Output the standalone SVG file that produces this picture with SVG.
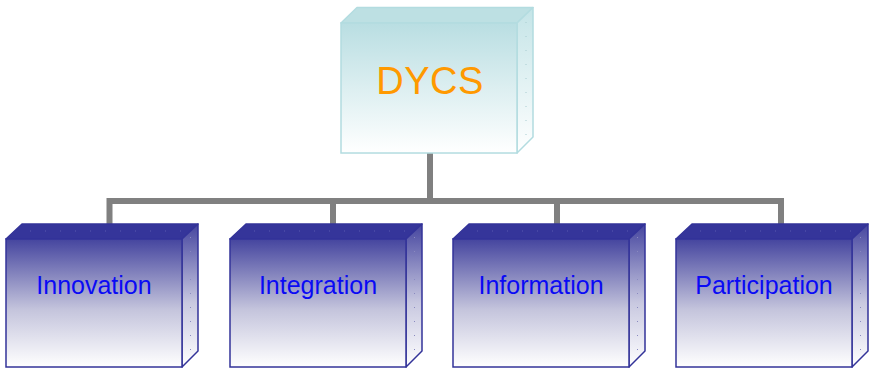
<svg xmlns="http://www.w3.org/2000/svg" width="871" height="368" viewBox="0 0 871 368">
  <defs>
    <linearGradient id="rootFront" x1="0" y1="0" x2="0" y2="1">
      <stop offset="0" stop-color="#B9DEE2"/>
      <stop offset="1" stop-color="#FFFFFF"/>
    </linearGradient>
    <linearGradient id="rootSide" x1="0" y1="0" x2="0" y2="1">
      <stop offset="0" stop-color="#C4E4E7"/>
      <stop offset="1" stop-color="#FFFFFF"/>
    </linearGradient>
    <linearGradient id="leafFront" x1="0" y1="0" x2="0" y2="1">
      <stop offset="0" stop-color="#45459F"/>
      <stop offset="0.55" stop-color="#C4C4DC"/>
      <stop offset="1" stop-color="#FFFFFF"/>
    </linearGradient>
    <linearGradient id="leafSide" x1="0" y1="0" x2="0" y2="1">
      <stop offset="0" stop-color="#45459F"/>
      <stop offset="0.55" stop-color="#C8C8E0"/>
      <stop offset="1" stop-color="#FFFFFF"/>
    </linearGradient>
    <!-- one 3D block: front face, top face, side face -->
    <g id="leafBlock">
      <path d="M0 0 L16 -15 L192 -15 L176 0 Z" fill="#35359A" stroke="#333399" stroke-width="1.5" stroke-linejoin="round"/>
      <path d="M176 0 L192 -15 L192 112 L176 128 Z" fill="url(#leafSide)" stroke="#333399" stroke-width="1.5" stroke-linejoin="round"/>
      <rect x="0" y="0" width="176" height="128" fill="url(#leafFront)" stroke="#333399" stroke-width="1.5"/>
      <line x1="184.5" y1="-2" x2="184.5" y2="112" stroke="#8A8AC0" stroke-width="1" stroke-dasharray="1 13"/>
      <line x1="24" y1="-8" x2="184" y2="-8" stroke="#5A5AB0" stroke-width="1" stroke-dasharray="1 14"/>
    </g>
  </defs>
  <style>
    .conn { fill: none; stroke: #808080; stroke-width: 6; }
    .leafText { font-family: "Liberation Sans", Arial, sans-serif; font-size: 25px; fill: #0A0AF5; text-anchor: middle; }
    .rootText { font-family: "Liberation Sans", Arial, sans-serif; font-size: 38px; fill: #FF9900; text-anchor: middle; letter-spacing: 0.5px; }
  </style>

  <g id="connectors">
    <line class="conn" x1="430" y1="153" x2="430" y2="201"/>
    <polyline class="conn" points="109.5,224 109.5,201 781,201 781,224"/>
    <line class="conn" x1="333" y1="201" x2="333" y2="224"/>
    <line class="conn" x1="557" y1="201" x2="557" y2="224"/>
  </g>

  <g id="node-dycs">
    <path d="M341 23 L357 7.5 L533 7.5 L517 23 Z" fill="#BDE0E3" stroke="#B3DCE0" stroke-width="1.5" stroke-linejoin="round"/>
    <path d="M517 23 L533 7.5 L533 137 L517 153 Z" fill="url(#rootSide)" stroke="#B3DCE0" stroke-width="1.5" stroke-linejoin="round"/>
    <rect x="341" y="23" width="176" height="130" fill="url(#rootFront)" stroke="#B3DCE0" stroke-width="1.5"/>
    <line x1="526" y1="22" x2="526" y2="137" stroke="#A8CCD0" stroke-width="1" stroke-dasharray="1 13"/>
    <text class="rootText" x="430" y="94">DYCS</text>
  </g>

  <g id="node-innovation">
    <use href="#leafBlock" x="6" y="239"/>
    <text class="leafText" x="94" y="294">Innovation</text>
  </g>
  <g id="node-integration">
    <use href="#leafBlock" x="230" y="239"/>
    <text class="leafText" x="318" y="294">Integration</text>
  </g>
  <g id="node-information">
    <use href="#leafBlock" x="453" y="239"/>
    <text class="leafText" x="541" y="294">Information</text>
  </g>
  <g id="node-participation">
    <use href="#leafBlock" x="676" y="239"/>
    <text class="leafText" x="764" y="294">Participation</text>
  </g>
</svg>
